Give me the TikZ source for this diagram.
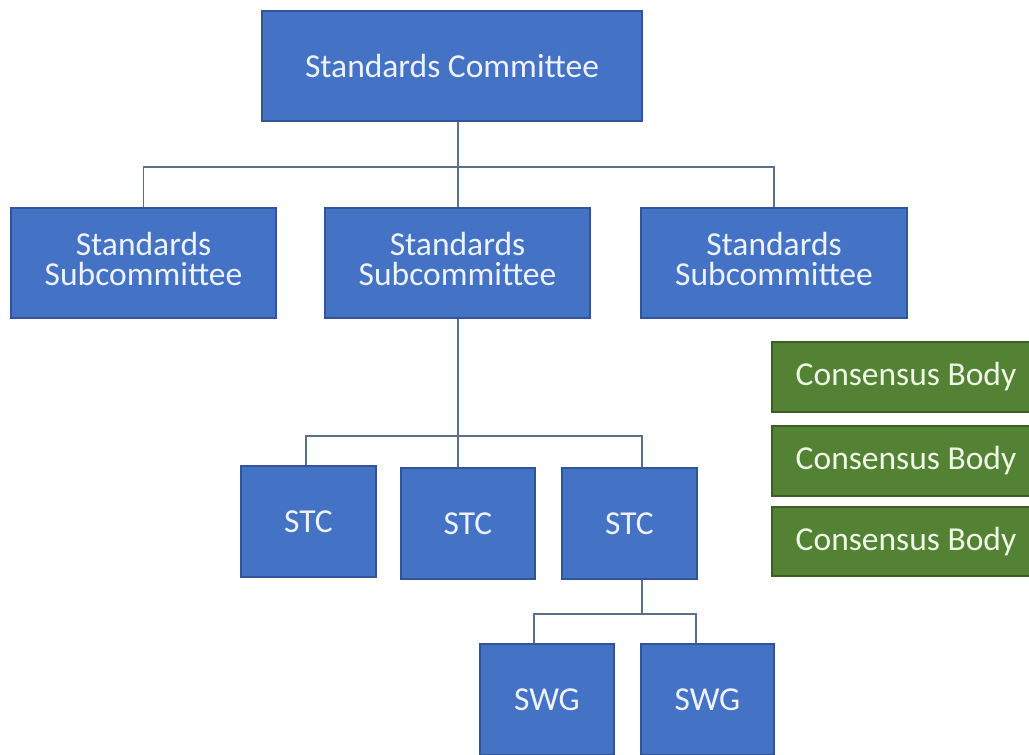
\documentclass[tikz,border=0pt]{standalone}
\usepackage{fontspec}
\setmainfont{Carlito}
\definecolor{boxblue}{HTML}{4472C4}
\definecolor{boxblueedge}{HTML}{2F5597}
\definecolor{boxgreen}{HTML}{548235}
\definecolor{boxgreenedge}{HTML}{3B5E24}
\definecolor{linecol}{HTML}{5B6F88}
\definecolor{txtblue}{HTML}{EEF2FA}
\definecolor{txtgreen}{HTML}{EEF6E6}
\tikzset{
  bluebox/.style={draw=boxblueedge, fill=boxblue, line width=1.3pt, inner sep=0pt,
    text=txtblue, align=center, font=\fontsize{33.5}{30.5}\selectfont},
  greenbox/.style={draw=boxgreenedge, fill=boxgreen, line width=1.3pt, inner sep=0pt,
    text=txtgreen, align=center, font=\fontsize{33.5}{30.5}\selectfont,
    minimum width=268pt, minimum height=70pt},
  conn/.style={draw=linecol, line width=1.6pt},
}
\begin{document}
\begin{tikzpicture}[x=1pt,y=-1pt]
\useasboundingbox (0,0) rectangle (1029,755);
\fill[white] (0,0) rectangle (1029,755);
\clip (0,0) rectangle (1029,755);

% nodes
\node[bluebox, minimum width=380pt, minimum height=110pt] (top) at (452,66) {Standards Committee};
\node[bluebox, minimum width=265pt, minimum height=110pt] (sub1) at (143.5,263) {Standards\\Subcommittee\\[-22pt]};
\node[bluebox, minimum width=265pt, minimum height=110pt] (sub2) at (457.5,263) {Standards\\Subcommittee\\[-22pt]};
\node[bluebox, minimum width=266pt, minimum height=110pt] (sub3) at (774,263) {Standards\\Subcommittee\\[-22pt]};

\node[greenbox] (cb1) at (906,377) {Consensus Body};
\node[greenbox] (cb2) at (906,461) {Consensus Body};
\node[greenbox, minimum height=69pt] (cb3) at (906,541.5) {Consensus Body};

\node[bluebox, minimum width=135pt, minimum height=111pt] (stc1) at (308.5,521.5) {STC};
\node[bluebox, minimum width=134pt, minimum height=111pt] (stc2) at (468,523.5) {STC};
\node[bluebox, minimum width=135pt, minimum height=111pt] (stc3) at (629.5,523.5) {STC};

\node[bluebox, minimum width=134pt, minimum height=111pt] (swg1) at (547,699.5) {SWG};
\node[bluebox, minimum width=133pt, minimum height=111pt] (swg2) at (707.5,699.5) {SWG};

% junctions and drop positions
\coordinate (j1) at (458,167);
\coordinate (j2) at (458,436);
\coordinate (j3) at (642,614);
\coordinate (x306) at (306,0);
\coordinate (x642) at (642,0);
\coordinate (x534) at (534,0);
\coordinate (x696) at (696,0);

% connectors level 1
\draw[conn] (top.south -| j1) -- (j1);
\draw[conn] (j1) -| (sub1.north);
\draw[conn] (j1) -- (sub2.north -| j1);
\draw[conn] (j1) -| (sub3.north);

% level 2
\draw[conn] (sub2.south -| j2) -- (j2);
\draw[conn] (j2) -| (stc1.north -| x306);
\draw[conn] (j2) -- (stc2.north -| j2);
\draw[conn] (j2) -| (stc3.north -| x642);

% level 3
\draw[conn] (stc3.south -| j3) -- (j3);
\draw[conn] (j3) -| (swg1.north -| x534);
\draw[conn] (j3) -| (swg2.north -| x696);
\end{tikzpicture}
\end{document}
